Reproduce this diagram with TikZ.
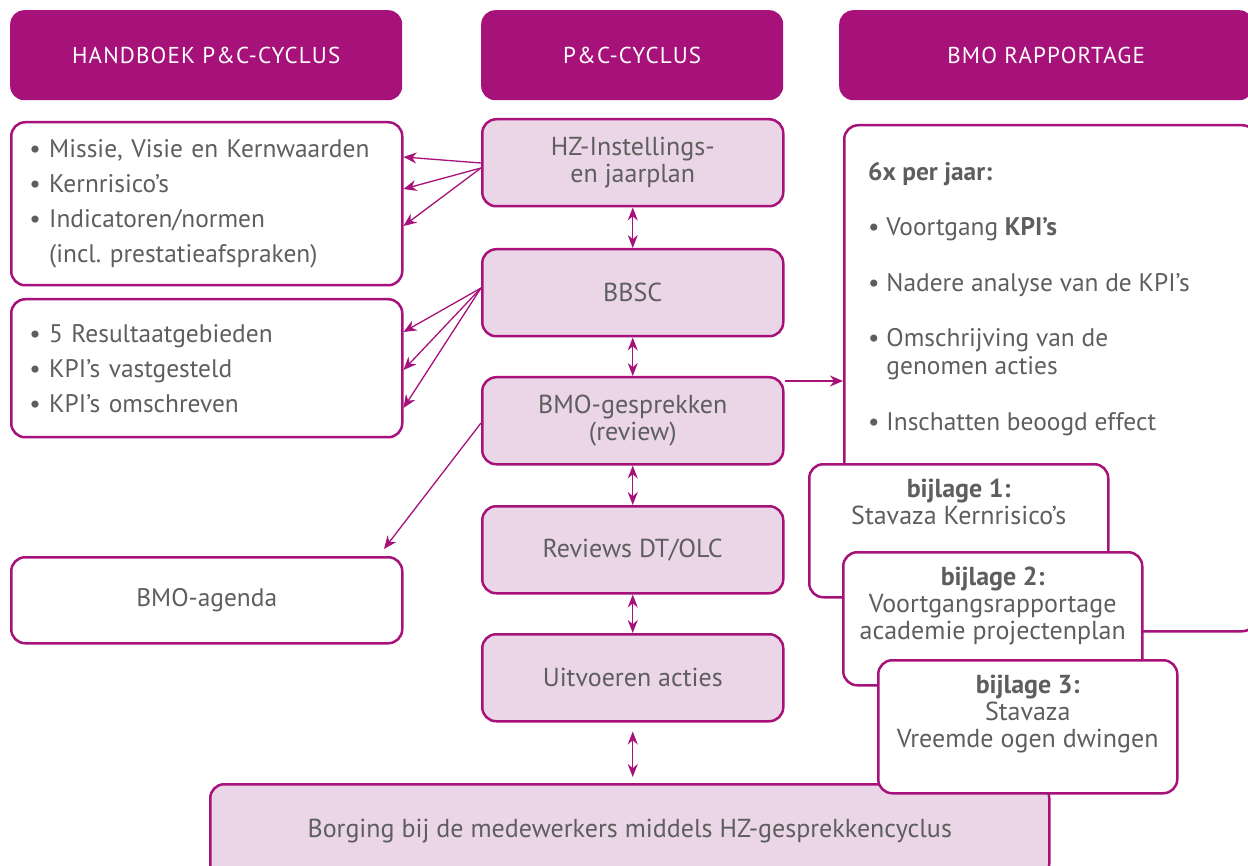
\documentclass[tikz,border=0pt]{standalone}
\usepackage{fontspec}
\setmainfont{PT Sans}
\usetikzlibrary{arrows.meta}

\definecolor{hzmagenta}{HTML}{A6117A}
\definecolor{hzlicht}{HTML}{EBD6E8}
\definecolor{hzgrijs}{HTML}{5E5E5E}

\tikzset{
  kop/.style={rectangle, rounded corners=14pt, fill=hzmagenta, text=white,
    anchor=north west, minimum height=90pt,
    font=\fontsize{23}{26}\selectfont\addfontfeature{LetterSpace=5}},
  cyclus/.style={rectangle, rounded corners=14pt, draw=hzmagenta, line width=2.5pt,
    fill=hzlicht, text=hzgrijs, align=center, anchor=north west,
    minimum width=301pt, minimum height=87pt, font=\fontsize{26}{27}\selectfont},
  lijst/.style={rectangle, rounded corners=14pt, draw=hzmagenta, line width=2.5pt,
    fill=white, text=hzgrijs, align=left, anchor=north west, inner xsep=18pt,
    font=\fontsize{25.4}{35}\selectfont},
  bijl/.style={rectangle, rounded corners=14pt, draw=hzmagenta, line width=2.5pt,
    fill=white, anchor=north west, minimum width=299pt, minimum height=133pt},
  bijltekst/.style={text=hzgrijs, align=center, anchor=north, inner sep=0pt,
    font=\fontsize{26}{27}\selectfont},
  pijl/.style={draw=hzmagenta, line width=1.3pt, -{Stealth[length=13pt,width=11pt]}},
  dpijl/.style={draw=hzmagenta, line width=1.3pt,
    {Stealth[length=13pt,width=10pt]}-{Stealth[length=13pt,width=10pt]}},
}

\newcommand{\bol}{\textbullet\ }
\newcommand{\inspring}{\hphantom{\textbullet\ }}

\begin{document}
\begin{tikzpicture}[x=1pt,y=-1pt]
  \useasboundingbox (0,0) rectangle (1248,866);

  % koppen
  \node[kop, minimum width=392pt] (k1) at (10,10) {HANDBOEK P\&C-CYCLUS};
  \node[kop, minimum width=302pt] (k2) at (481,10) {P\&C-CYCLUS};
  \node[kop, minimum width=414pt] (k3) at (839,10) {BMO RAPPORTAGE};

  % linker kolom
  \node[lijst, text width=355pt, minimum height=163pt] (l1) at (10,121)
    {\bol Missie, Visie en Kernwaarden\\ \bol Kernrisico’s\\
     \bol Indicatoren/normen\\ \inspring(incl.\ prestatieafspraken)};
  \node[lijst, text width=355pt, minimum height=138pt] (l2) at (10,298)
    {\bol 5 Resultaatgebieden\\ \bol KPI’s vastgesteld\\ \bol KPI’s omschreven};
  \node[lijst, align=center, text width=355pt, minimum height=86pt] (l3) at (10,556)
    {BMO-agenda};

  % middelste kolom
  \node[cyclus] (hz) at (481,118) {HZ-Instellings-\\en jaarplan};
  \node[cyclus] (bbsc) at (481,248) {BBSC};
  \node[cyclus] (bmo) at (481,376) {BMO-gesprekken\\(review)};
  \node[cyclus] (rev) at (481,505) {Reviews DT/OLC};
  \node[cyclus] (uit) at (481,633) {Uitvoeren acties};
  \node[cyclus, minimum width=839pt, minimum height=94pt] (borg) at (209,783)
    {Borging bij de medewerkers middels HZ-gesprekkencyclus};

  % rechter kolom
  \node[lijst, minimum width=412pt, minimum height=506pt] (rap) at (843,124) {};
  \node[text=hzgrijs, align=left, anchor=north west, inner sep=0pt,
    font=\fontsize{25.4}{28}\selectfont] (raptekst) at (868,162)
    {\textbf{6x per jaar:}\\[27.5pt]
     \bol Voortgang \textbf{KPI’s}\\[27.5pt]
     \bol Nadere analyse van de KPI’s\\[27.5pt]
     \bol Omschrijving van de\\ \inspring genomen acties\\[27.5pt]
     \bol Inschatten beoogd effect};

  \node[bijl] (b1) at (808,463) {};
  \node[bijltekst] (b1t) at ([yshift=-16pt]b1.north)
    {\textbf{bijlage 1:}\\Stavaza Kernrisico’s};
  \node[bijl] (b2) at (842,551) {};
  \node[bijltekst] (b2t) at ([yshift=-16pt]b2.north)
    {\textbf{bijlage 2:}\\Voortgangsrapportage\\academie projectenplan};
  \node[bijl] (b3) at (877,659) {};
  \node[bijltekst] (b3t) at ([yshift=-16pt]b3.north)
    {\textbf{bijlage 3:}\\Stavaza\\Vreemde ogen dwingen};

  % pijlen
  \draw[pijl] (hz.west |- 0,163) -- (l1.east |- 0,157);
  \foreach \y in {189,226}
    \draw[pijl] (hz.west |- 0,168) -- (l1.east |- 0,\y);
  \foreach \y in {332,370,408}
    \draw[pijl] (bbsc.west |- 0,288) -- (l2.east |- 0,\y);
  \draw[pijl] (bmo.west |- 0,423) -- (384,549) coordinate (agenda);
  \draw[pijl] (bmo.east |- 0,381) -- (rap.west |- 0,381);

  \draw[dpijl] (hz) -- (bbsc);
  \draw[dpijl] (bbsc) -- (bmo);
  \draw[dpijl] (bmo) -- (rev);
  \draw[dpijl] (rev) -- (uit);
  \draw[dpijl, shorten <=9pt, shorten >=6pt] (uit) -- (borg.north -| uit);
\end{tikzpicture}
\end{document}
